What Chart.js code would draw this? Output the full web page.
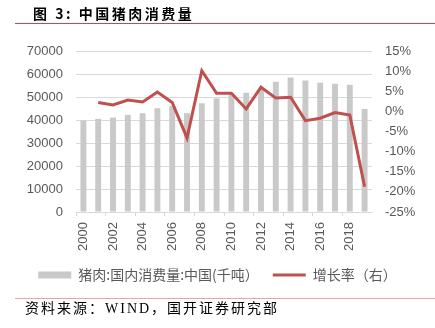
<!DOCTYPE html>
<html>
<head>
<meta charset="utf-8">
<script src="https://cdn.jsdelivr.net/npm/chart.js@4/dist/chart.umd.min.js"></script>
<style>
    html, body { margin: 0; padding: 0; background: #fff; }
    #wrap { position: relative; width: 435px; height: 328px; overflow: hidden; }
    #chart { position: absolute; left: 0; top: 0; }
    .title {
        position: absolute; left: 33px; top: 3px;
        font: bold 14px "Noto Sans CJK SC", sans-serif; letter-spacing: 2.5px;
        color: #000; line-height: 20px; white-space: nowrap;
    }
    .rule-top { position: absolute; left: 15px; right: 0; top: 23px; height: 1px; background: #d0454c; }
    .rule-bottom { position: absolute; left: 15px; right: 0; top: 298px; height: 1px; background: #eaa3a8; }
    .source {
        position: absolute; left: 25px; top: 300px;
        font: 14px "Liberation Serif", "Noto Sans CJK SC", serif; letter-spacing: 2px;
        color: #000; line-height: 18px; white-space: nowrap;
    }
</style>
</head>
<body>
<div id="wrap">
    <canvas id="chart" width="435" height="328"></canvas>
    <div class="title">图 3: 中国猪肉消费量</div>
    <div class="rule-top"></div>
    <div class="rule-bottom"></div>
    <div class="source">资料来源：WIND，国开证券研究部</div>
</div>
<script>
// years on the x axis
const years = ['2000', '2001', '2002', '2003', '2004', '2005', '2006', '2007', '2008', '2009',
    '2010', '2011', '2012', '2013', '2014', '2015', '2016', '2017', '2018', '2019'];

// pork consumption, thousand tonnes
const consumption = [39750, 40500, 41050, 42200, 42950, 45100, 46100, 43000, 47270, 49430,
    51500, 51850, 53500, 56600, 58500, 57200, 56170, 55740, 55300, 44800];

// year-on-year growth, percent (no value for the first year)
const growth = [null, 2.2, 1.6, 2.8, 2.35, 4.8, 2.2, -6.6, 10.1, 4.5,
    4.5, 0.6, 6.0, 3.3, 3.5, -2.3, -1.7, -0.3, -0.9, -18.7];

const leftTicks = { min: 0, max: 70000, step: 10000 };
const rightTicks = { min: -25, max: 15, step: 5 };

const seriesNames = ['猪肉:国内消费量:中国(千吨）', '增长率（右）'];

const tickFont = { family: '"Liberation Sans", sans-serif', size: 13 };
const tickColor = '#595959';

const ctx = document.getElementById('chart');

new Chart(ctx, {
    data: {
        labels: years,
        datasets: [
            {
                type: 'line',
                label: seriesNames[1],
                data: growth,
                yAxisID: 'y1',
                borderColor: '#c0504d',
                backgroundColor: '#c0504d',
                borderWidth: 3,
                pointRadius: 0,
                pointStyle: 'line',
                tension: 0,
                order: 0,
            },
            {
                type: 'bar',
                label: seriesNames[0],
                data: consumption,
                yAxisID: 'y',
                backgroundColor: '#c9c9c9',
                borderWidth: 0,
                pointStyle: 'rect',
                barPercentage: 0.8,
                categoryPercentage: 0.5,
                order: 1,
            },
        ],
    },
    options: {
        responsive: false,
        animation: false,
        layout: { padding: { top: 51, left: 0, right: 0, bottom: 36 } },
        plugins: {
            tooltip: { enabled: false },
            legend: {
                position: 'bottom',
                reverse: true,
                labels: {
                    usePointStyle: true,
                    pointStyleWidth: 33,
                    boxHeight: 7,
                    padding: 14,
                    color: tickColor,
                    font: { family: '"Noto Sans CJK SC", sans-serif', size: 14 },
                },
            },
        },
        scales: {
            x: {
                offset: true,
                grid: {
                    offset: true,
                    drawOnChartArea: false,
                    tickLength: 4,
                    color: (c) => (c.index % 2 === 0 ? '#d9d9d9' : 'rgba(0,0,0,0)'),
                },
                border: { color: '#d9d9d9' },
                ticks: {
                    autoSkip: false,
                    minRotation: 90,
                    maxRotation: 90,
                    padding: 6,
                    color: tickColor,
                    font: tickFont,
                    callback: function (value, index) {
                        return index % 2 === 0 ? this.getLabelForValue(value) : '';
                    },
                },
                afterFit: (scale) => { scale.height = 42; },
            },
            y: {
                position: 'left',
                min: leftTicks.min,
                max: leftTicks.max,
                grid: { color: '#d9d9d9', drawTicks: false },
                border: { display: false },
                ticks: {
                    stepSize: leftTicks.step,
                    padding: 13,
                    color: tickColor,
                    font: tickFont,
                    callback: (v) => String(v),
                },
                afterFit: (scale) => { scale.width = 76; },
            },
            y1: {
                position: 'right',
                min: rightTicks.min,
                max: rightTicks.max,
                grid: { drawOnChartArea: false, drawTicks: false },
                border: { display: false },
                ticks: {
                    stepSize: rightTicks.step,
                    padding: 13,
                    color: tickColor,
                    font: tickFont,
                    callback: (v) => v + '%',
                },
                afterFit: (scale) => { scale.width = 63; },
            },
        },
    },
});
</script>
</body>
</html>
